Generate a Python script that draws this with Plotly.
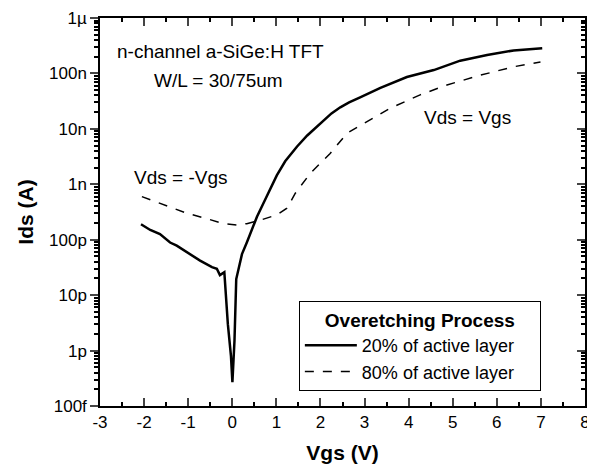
import plotly.graph_objects as go

# Solid: 20% of active layer
vgs_20 = [-2.07, -1.86, -1.64, -1.41, -1.26, -1.03, -0.73, -0.46, -0.35, -0.28, -0.18, -0.10, -0.03, 0.003, 0.05, 0.09, 0.22, 0.33, 0.56, 0.78, 1.01, 1.20, 1.47, 1.70, 1.90, 2.07, 2.25, 2.45, 2.65, 2.90, 3.36, 3.96, 4.57, 5.17, 5.78, 6.38, 7.03]
ids_20 = [1.9e-10, 1.5e-10, 1.26e-10, 8.9e-11, 7.8e-11, 5.9e-11, 4.2e-11, 3.2e-11, 3.0e-11, 2.3e-11, 2.6e-11, 3.0e-12, 8e-13, 2.7e-13, 1.5e-12, 1.95e-11, 5.5e-11, 8.9e-11, 2.6e-10, 6.0e-10, 1.45e-09, 2.6e-09, 4.8e-09, 7.6e-09, 1.05e-08, 1.4e-08, 1.9e-08, 2.45e-08, 3.0e-08, 3.7e-08, 5.5e-08, 8.6e-08, 1.15e-07, 1.7e-07, 2.15e-07, 2.6e-07, 2.85e-07]

# Dashed: 80% of active layer
vgs_80 = [-2.05, -1.56, -1.03, -0.58, -0.20, 0.10, 0.33, 0.63, 1.01, 1.24, 1.43, 1.77, 2.22, 2.60, 3.05, 3.58, 4.26, 4.87, 5.63, 6.38, 6.99]
ids_80 = [6.0e-10, 4.3e-10, 3.0e-10, 2.4e-10, 1.95e-10, 1.85e-10, 1.95e-10, 2.25e-10, 2.8e-10, 3.7e-10, 6.9e-10, 1.58e-09, 3.6e-09, 8.3e-09, 1.35e-08, 2.35e-08, 4.1e-08, 6.2e-08, 9.3e-08, 1.32e-07, 1.6e-07]

ytick_vals = [1e-13, 1e-12, 1e-11, 1e-10, 1e-9, 1e-8, 1e-7, 1e-6]
ytick_text = ["100f", "1p", "10p", "100p", "1n", "10n", "100n", "1µ"]
xtick_vals = [-3, -2, -1, 0, 1, 2, 3, 4, 5, 6, 7, 8]
xtick_text = ["-3", "-2", "-1", "0", "1", "2", "3", "4", "5", "6", "7", "8"]

minor_y = [m * d for d in ytick_vals[:-1] for m in range(2, 10)]

FONT = "Arial, Liberation Sans, sans-serif"
PAD = "\u00a0" * 4

fig = go.Figure()
fig.add_trace(go.Scatter(x=vgs_20, y=ids_20, mode="lines", name="20% of active layer" + PAD,
                         line=dict(color="black", width=2.5)))
fig.add_trace(go.Scatter(x=vgs_80, y=ids_80, mode="lines", name="80% of active layer" + PAD,
                         line=dict(color="black", width=1.5, dash="dash")))

annots = [
    dict(x=-2.64, y=-6.61, text="n-channel a-SiGe:H TFT"),
    dict(x=-1.80, y=-7.12, text="W/L = 30/75um"),
    dict(x=-2.25, y=-8.87, text="Vds = -Vgs"),
    dict(x=4.33, y=-7.80, text="Vds = Vgs"),
]
for a in annots:
    fig.add_annotation(x=a["x"], y=a["y"], text=a["text"], showarrow=False,
                       xanchor="left", yanchor="middle", xshift=-1,
                       font=dict(size=19, color="black", family=FONT))

# page body has an 8px margin, so the figure is shifted by 8px right/down
fig.update_layout(
    width=587, height=461,
    margin=dict(l=92, r=10, t=10, b=63),
    paper_bgcolor="white", plot_bgcolor="white",
    font=dict(family=FONT, color="black", size=17),
    showlegend=True,
    legend=dict(x=0.41, y=0.27, xanchor="left", yanchor="top",
                bordercolor="black", borderwidth=1, bgcolor="white",
                title=dict(text="<b>Overetching Process</b>", side="top center", font=dict(size=19)),
                font=dict(size=18), tracegroupgap=0, itemwidth=52),
    xaxis=dict(range=[-3, 8], tickvals=xtick_vals, ticktext=xtick_text, ticks="inside", ticklen=8, tickwidth=1.5,
               showline=True, linecolor="black", linewidth=1.5, mirror="ticks",
               showgrid=False, zeroline=False, automargin=False,
               minor=dict(ticks="inside", ticklen=4, dtick=0.5, tickcolor="black", showgrid=False),
               title=dict(text="<b>Vgs (V)</b>", font=dict(size=21), standoff=14),
               tickfont=dict(size=17)),
    yaxis=dict(type="log", range=[-13, -6], tickvals=ytick_vals, ticktext=ytick_text,
               ticks="outside", ticklen=8, tickwidth=1.5,
               showline=True, linecolor="black", linewidth=1.5, mirror=True,
               showgrid=False, zeroline=False, automargin=False,
               minor=dict(ticks="outside", ticklen=4, tickvals=minor_y, tickcolor="black", showgrid=False),
               title=dict(text="<b>Ids (A)</b>", font=dict(size=21), standoff=10),
               tickfont=dict(size=17)),
    yaxis2=dict(type="log", range=[-13, -6], overlaying="y", side="right",
                tickvals=ytick_vals, ticks="inside", ticklen=8, tickwidth=1.5, showticklabels=False,
                showline=False, showgrid=False, zeroline=False, automargin=False,
                minor=dict(ticks="inside", ticklen=4, tickvals=minor_y, tickcolor="black", showgrid=False)),
)
fig.add_trace(go.Scatter(x=[None], y=[None], yaxis="y2", showlegend=False, hoverinfo="skip"))

fig.write_html("out.html")
